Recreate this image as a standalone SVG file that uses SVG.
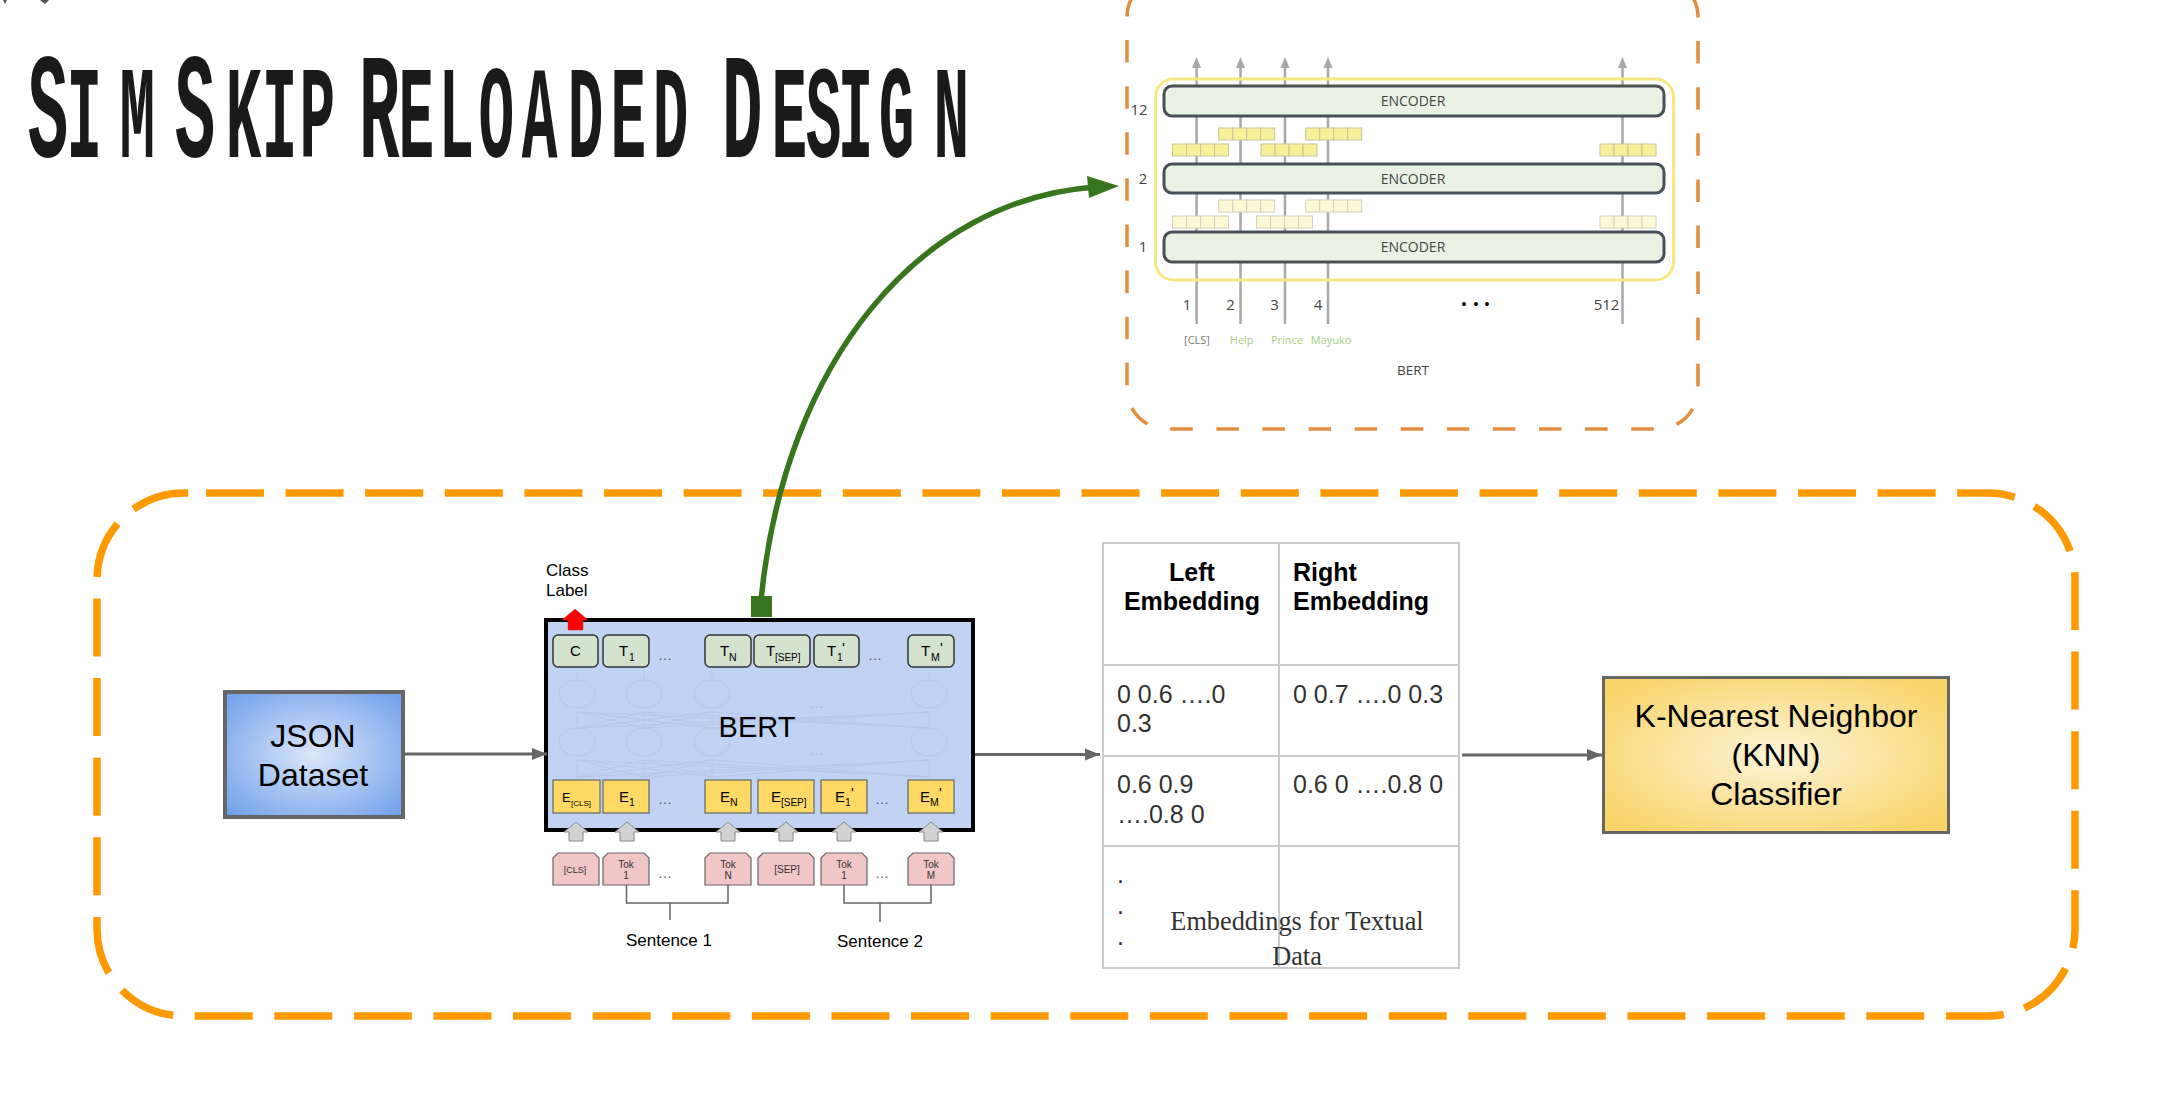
<svg xmlns="http://www.w3.org/2000/svg" width="2184" height="1098" viewBox="0 0 2184 1098">
<style>
text{font-family:"Liberation Sans",Arial,sans-serif;fill:#000}
.os{font-family:"Open Sans","Noto Sans",sans-serif;fill:#444}
.big{font-size:150px}.sm{font-size:132px;text-transform:uppercase}
.t32{font-size:32px;text-anchor:middle}
.tk{fill:#d2e2cd;stroke:#333;stroke-width:1.5}
.em{fill:#ffd966;stroke:#666;stroke-width:1.2}
.pk{fill:#f0c6c6;stroke:#666;stroke-width:1.2}
.gr{fill:#d2d2d2;stroke:#888;stroke-width:1}
.main{font-size:15px}.sub{font-size:10.5px}.pr{font-size:15px}
.dots{font-size:14px;fill:#555;text-anchor:middle}
.tok{font-size:10px;text-anchor:middle;fill:#333}
.nn{fill:none;stroke:#b6c8e8;stroke-width:1}
.enc{fill:#e8f3e3;stroke:#4a5058;stroke-width:3}
.ent{font-size:14px;text-anchor:middle}
.cell1{fill:#f9f09a;stroke:#c8c49a;stroke-width:1}
.cell2{fill:#fdf9d4;stroke:#d2d0bc;stroke-width:1}
.v{stroke:#a8a8a8;stroke-width:2.5;fill:none}
.num{font-size:15px;text-anchor:middle}
.lab{font-size:11px;text-anchor:middle;fill:#a6d184}
.tb{fill:none;stroke:#ccc;stroke-width:2}
.hd{font-size:25px;font-weight:bold}
.val{font-size:25px;fill:#333}
.ser{font-family:"Liberation Serif",serif;font-size:26.3px;text-anchor:middle;fill:#333}
.cn{fill:none;stroke:#666;stroke-width:3}
.br{fill:none;stroke:#666;stroke-width:1.5}
.st{font-size:17px;text-anchor:middle}
</style>
<defs>
<radialGradient id="gb" cx=".5" cy=".5" r=".7"><stop offset="0" stop-color="#dce7f9"/><stop offset="1" stop-color="#6d9eeb"/></radialGradient>
<radialGradient id="gy" cx=".5" cy=".5" r=".62"><stop offset="0" stop-color="#fdf4d8"/><stop offset="1" stop-color="#f9d469"/></radialGradient>
<marker id="ah" markerUnits="userSpaceOnUse" markerWidth="16" markerHeight="14" refX="15" refY="6.5" orient="auto"><path d="M0,0.5L15,6.5L0,12.5z" fill="#666"/></marker>
<path id="up" d="M-12,10L0,0L12,10H7V19H-7V10z"/>
<path id="pent" d="M0,5L5,0H41L46,5V32H0z"/>
<g id="cells"><rect width="14" height="12"/><rect x="14" width="14" height="12"/><rect x="28" width="14" height="12"/><rect x="42" width="14" height="12"/></g>
</defs>
<rect width="2184" height="1098" fill="#fff"/>

<g id="corner-mark" fill="#555"><path d="M3,0H7L5,4zM40,0H49L45,4z"/></g>

<text id="title" transform="translate(34 157) scale(.45 1)" x="-14 72 190 313 426 506 590 695 722 810 899 988 1084 1186 1281 1375 1488 1529 1639 1715 1786 1877 1999" y="0" font-weight="bold" style="fill:#1a1a1a;font-family:'Liberation Mono',monospace"><tspan class="big">S</tspan><tspan class="sm">im</tspan><tspan class="big">S</tspan><tspan class="sm">kip</tspan><tspan class="sm"> </tspan><tspan class="big">R</tspan><tspan class="sm">eloaded</tspan><tspan class="sm"> </tspan><tspan class="big">D</tspan><tspan class="sm">esign</tspan></text>

<path id="outer-frame" d="M206,493H1988A87,87 0 0 1 2075,580V929A87,87 0 0 1 1988,1016H184A87,87 0 0 1 97,929V580A87,87 0 0 1 184,493H206" fill="none" stroke="#ff9900" stroke-width="7.5" stroke-dasharray="58 21.6"/>

<g id="bert-figure">
<path d="M1167,-23A40,40 0 0 0 1127,17V389A40,40 0 0 0 1167,429H1658A40,40 0 0 0 1698,389V17A40,40 0 0 0 1658,-23" fill="none" stroke="#e28d40" stroke-width="3.5" stroke-dasharray="22.5 23.6" stroke-dashoffset="6.4"/>
<g class="v"><path d="M1196.6,324V66M1240.5,324V66M1285,324V66M1328,324V66M1622.5,324V66"/></g>
<g fill="#a8a8a8"><path d="M1192,68L1196.6,57L1201,68zM1236,68L1240.5,57L1245,68zM1280.5,68L1285,57L1289.5,68zM1323.5,68L1328,57L1332.5,68zM1618,68L1622.5,57L1627,68z"/></g>
<rect x="1155.5" y="79" width="518" height="201" rx="18" fill="none" stroke="#f9e882" stroke-width="3"/>
<g id="enc3"><rect class="enc" x="1164" y="86" width="500" height="30" rx="8"/><text class="os ent" x="1413" y="106">ENCODER</text></g>
<g id="enc2"><rect class="enc" x="1164" y="164" width="500" height="29" rx="8"/><text class="os ent" x="1413" y="184">ENCODER</text></g>
<g id="enc1"><rect class="enc" x="1164" y="232" width="500" height="30" rx="8"/><text class="os ent" x="1413" y="252">ENCODER</text></g>
<g class="cell1"><use href="#cells" x="1218.7" y="128"/><use href="#cells" x="1305.7" y="128"/><use href="#cells" x="1172.5" y="144"/><use href="#cells" x="1261" y="144"/><use href="#cells" x="1600" y="144"/></g>
<g class="cell2"><use href="#cells" x="1218.7" y="200"/><use href="#cells" x="1305.7" y="200"/><use href="#cells" x="1172.5" y="216"/><use href="#cells" x="1256.5" y="216"/><use href="#cells" x="1600" y="216"/></g>
<text class="os num" x="1139" y="115">12</text><text class="os num" x="1143" y="184">2</text><text class="os num" x="1143" y="252">1</text>
<text class="os num" x="1187" y="310">1</text><text class="os num" x="1230.6" y="310">2</text><text class="os num" x="1274.5" y="310">3</text><text class="os num" x="1318" y="310">4</text><text class="os num" x="1606.6" y="310">512</text>
<text x="1464 1476 1487" y="309" font-size="14" text-anchor="middle">•••</text>
<text class="os lab" x="1197" y="344" style="fill:#777">[CLS]</text><text class="os lab" x="1241.7" y="344">Help</text><text class="os lab" x="1287" y="344">Prince</text><text class="os lab" x="1331" y="344">Mayuko</text>
<text class="os" x="1413" y="375" font-size="13.5" text-anchor="middle">BERT</text>
</g>

<g id="json-dataset"><rect x="225" y="692" width="178" height="125" fill="url(#gb)" stroke="#666" stroke-width="4"/><text class="t32" x="313" y="747">JSON</text><text class="t32" x="313" y="786">Dataset</text></g>

<g id="bert">
<rect x="546" y="620" width="427" height="210" fill="#c0d3f3" stroke="#000" stroke-width="4"/>
<g class="nn">
<ellipse cx="577" cy="694" rx="18" ry="14"/><ellipse cx="644" cy="694" rx="18" ry="14"/><ellipse cx="712" cy="694" rx="18" ry="14"/><ellipse cx="929" cy="694" rx="18" ry="14"/>
<ellipse cx="577" cy="742" rx="18" ry="14"/><ellipse cx="644" cy="742" rx="18" ry="14"/><ellipse cx="712" cy="742" rx="18" ry="14"/><ellipse cx="929" cy="742" rx="18" ry="14"/>
<path d="M577,680V670M644,680V670M712,680V670M929,680V670"/>
<path d="M577,728V712L644,728M577,712L712,728M577,712L929,728M644,728V712L577,728M644,712L712,728M644,712L929,728M712,728V712L577,728M712,712L644,728M712,712L929,728M929,728V712L577,728M929,712L644,728M929,712L712,728"/>
<path d="M577,777V760L644,777M577,760L712,777M577,760L929,777M644,777V760L577,777M644,760L712,777M644,760L929,777M712,777V760L577,777M712,760L644,777M712,760L929,777M929,777V760L577,777M929,760L644,777M929,760L712,777"/>
</g>
<text class="dots" x="817" y="708" style="fill:#a9bbda">…</text><text class="dots" x="817" y="755" style="fill:#a9bbda">…</text>
<text x="757" y="737" font-size="29" text-anchor="middle">BERT</text>
<rect class="tk" x="553" y="635" width="45" height="32" rx="5"/><rect class="tk" x="603" y="635" width="46" height="32" rx="5"/><rect class="tk" x="705" y="635" width="46" height="32" rx="5"/><rect class="tk" x="754" y="635" width="56" height="32" rx="5"/><rect class="tk" x="814" y="635" width="45" height="32" rx="5"/><rect class="tk" x="908" y="635" width="46" height="32" rx="5"/>
<text class="main" x="570" y="656">C</text>
<text class="main" x="619" y="656">T<tspan class="sub" x="629" dy="5">1</tspan></text>
<text class="dots" x="665" y="660">…</text>
<text class="main" x="720" y="656">T<tspan class="sub" x="729" dy="5">N</tspan></text>
<text class="main" x="766" y="656">T<tspan class="sub" x="775" dy="5" style="font-size:10px">[SEP]</tspan></text>
<text class="main" x="827" y="656">T<tspan class="sub" x="837" dy="5">1</tspan><tspan class="pr" x="842" dy="-8">'</tspan></text>
<text class="dots" x="875" y="660">…</text>
<text class="main" x="921" y="656">T<tspan class="sub" x="931" dy="5">M</tspan><tspan class="pr" x="940" dy="-8">'</tspan></text>
<rect class="em" x="553" y="780" width="47" height="33"/><rect class="em" x="603" y="780" width="46" height="33"/><rect class="em" x="705" y="780" width="46" height="33"/><rect class="em" x="758" y="780" width="56" height="33"/><rect class="em" x="821" y="780" width="46" height="33"/><rect class="em" x="908" y="780" width="46" height="33"/>
<text class="main" x="562" y="802" style="font-size:13px">E<tspan class="sub" x="571" dy="4" style="font-size:8px">[CLS]</tspan></text>
<text class="main" x="619" y="802">E<tspan class="sub" x="629" dy="4">1</tspan></text>
<text class="dots" x="665" y="804">…</text>
<text class="main" x="720" y="802">E<tspan class="sub" x="730" dy="4">N</tspan></text>
<text class="main" x="771" y="802">E<tspan class="sub" x="781" dy="4" style="font-size:10px">[SEP]</tspan></text>
<text class="main" x="835" y="802">E<tspan class="sub" x="845" dy="4">1</tspan><tspan class="pr" x="851" dy="-8">'</tspan></text>
<text class="dots" x="882" y="804">…</text>
<text class="main" x="920" y="802">E<tspan class="sub" x="930" dy="4">M</tspan><tspan class="pr" x="939" dy="-8">'</tspan></text>
<path id="class-arrow" d="M575,609L588,620H583V630H568V620H562z" fill="#f00" stroke="#c33" stroke-width=".5"/>
<g class="gr"><use href="#up" x="576" y="822"/><use href="#up" x="627" y="822"/><use href="#up" x="728" y="822"/><use href="#up" x="786" y="822"/><use href="#up" x="844" y="822"/><use href="#up" x="931" y="822"/></g>
<text x="546" y="576" font-size="17">Class</text><text x="546" y="596" font-size="17">Label</text>
<g class="pk"><use href="#pent" x="553" y="853"/><use href="#pent" x="603" y="853"/><use href="#pent" x="705" y="853"/><path d="M758,858L763,853H809L814,858V885H758z"/><use href="#pent" x="821" y="853"/><use href="#pent" x="908" y="853"/></g>
<text class="tok" x="575" y="873" style="font-size:9px">[CLS]</text>
<text class="tok" x="626" y="868">Tok</text><text class="tok" x="626" y="879">1</text>
<text class="dots" x="665" y="878">…</text>
<text class="tok" x="728" y="868">Tok</text><text class="tok" x="728" y="879">N</text>
<text class="tok" x="787" y="873">[SEP]</text>
<text class="tok" x="844" y="868">Tok</text><text class="tok" x="844" y="879">1</text>
<text class="dots" x="882" y="878">…</text>
<text class="tok" x="931" y="868">Tok</text><text class="tok" x="931" y="879">M</text>
<path class="br" d="M626.5,885V903H728V885M670,903V920M844,885V903H931V885M880,903V922"/>
<text class="st" x="669" y="946">Sentence 1</text><text class="st" x="880" y="947">Sentence 2</text>
</g>

<g id="embedding-table">
<path class="tb" d="M1103,543H1459V968H1103zM1279,543V968M1103,665H1459M1103,756H1459M1103,846H1459"/>
<text class="hd" x="1192" y="581" text-anchor="middle">Left</text><text class="hd" x="1192" y="610" text-anchor="middle">Embedding</text>
<text class="hd" x="1293" y="581">Right</text><text class="hd" x="1293" y="610">Embedding</text>
<text class="val" x="1117" y="703">0 0.6 ….0</text><text class="val" x="1117" y="732">0.3</text>
<text class="val" x="1293" y="703">0 0.7 ….0 0.3</text>
<text class="val" x="1117" y="793">0.6 0.9</text><text class="val" x="1117" y="823">….0.8 0</text>
<text class="val" x="1293" y="793">0.6 0 ….0.8 0</text>
<text class="val" x="1117" y="883">.</text><text class="val" x="1117" y="914">.</text><text class="val" x="1117" y="945">.</text>
<text class="ser" x="1297" y="930">Embeddings for Textual</text><text class="ser" x="1297" y="965">Data</text>
</g>

<g id="knn"><rect x="1603.5" y="677.5" width="345" height="155" fill="url(#gy)" stroke="#666" stroke-width="3"/><text class="t32" x="1776" y="727">K-Nearest Neighbor</text><text class="t32" x="1776" y="766">(KNN)</text><text class="t32" x="1776" y="805">Classifier</text></g>

<g id="connectors">
<path class="cn" d="M405,754H547" marker-end="url(#ah)"/>
<path class="cn" d="M975,754.5H1100" marker-end="url(#ah)"/>
<path class="cn" d="M1462,755H1602" marker-end="url(#ah)"/>
<path d="M761,600C785,360 920,200 1095,187" fill="none" stroke="#38761d" stroke-width="5.5"/>
<path d="M1119,186L1087,176L1089,198z" fill="#38761d"/>
<rect x="751" y="596" width="21" height="21" fill="#38761d"/>
</g>
</svg>
